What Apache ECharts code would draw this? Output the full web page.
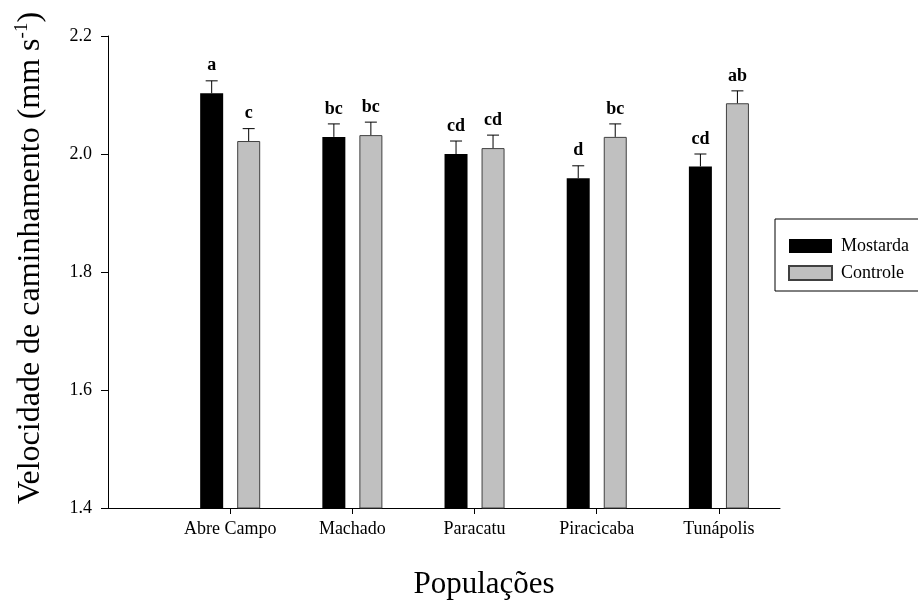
<!DOCTYPE html>
<html>
<head>
<meta charset="utf-8">
<script src="https://cdn.jsdelivr.net/npm/echarts@6/dist/echarts.min.js"></script>
<style>
html,body{margin:0;padding:0;background:#fff;}
#chart{width:918px;height:601px;}
</style>
</head>
<body>
<div id="chart"></div>
<script>
// ---- data ----
var populations = ['Abre Campo', 'Machado', 'Paracatu', 'Piracicaba', 'Tunápolis'];
var mostarda = [2.103, 2.029, 2.000, 1.959, 1.979];
var mostardaErr = [0.021, 0.022, 0.022, 0.021, 0.021];
var mostardaLetters = ['a', 'bc', 'cd', 'd', 'cd'];
var controle = [2.022, 2.032, 2.010, 2.029, 2.086];
var controleErr = [0.021, 0.022, 0.022, 0.022, 0.021];
var controleLetters = ['c', 'bc', 'cd', 'bc', 'ab'];
var yTicks = [1.4, 1.6, 1.8, 2.0, 2.2];

// ---- build axis slots (half-unit spacing, populations at 1..5 of a 0..5.5 range) ----
var slots = [];
for (var i = 0; i < 12; i++) slots.push('');
var slotIndex = populations.map(function (p, k) { return 2 + 2 * k; });
populations.forEach(function (p, k) { slots[slotIndex[k]] = p; });
function isPop(idx) { return slotIndex.indexOf(idx) >= 0; }

var FONT = '"Liberation Serif", "Times New Roman", serif';
var BAR_W = 23;
var OFFSET = 18.5;

function barData(vals) { return vals.map(function (v, k) { return [slotIndex[k], v]; }); }
function errData(vals, errs) { return vals.map(function (v, k) { return [slotIndex[k], v, errs[k]]; }); }

function errRender(sign, letters) {
  return function (params, api) {
    var idx = api.value(0), v = api.value(1), e = api.value(2);
    var p0 = api.coord([idx, v]);
    var p1 = api.coord([idx, v + e]);
    var x = p0[0] + sign * OFFSET;
    var style = { stroke: '#000', lineWidth: 1 };
    return {
      type: 'group',
      children: [
        { type: 'line', shape: { x1: x, y1: p0[1], x2: x, y2: p1[1] }, style: style },
        { type: 'line', shape: { x1: x - 6, y1: p1[1], x2: x + 6, y2: p1[1] }, style: style },
        { type: 'text', x: x, y: p1[1] - 6,
          style: { text: letters[params.dataIndex], font: 'bold 18px ' + FONT,
                   fill: '#000', textAlign: 'center', textVerticalAlign: 'bottom' } }
      ]
    };
  };
}

var chart = echarts.init(document.getElementById('chart'));
chart.setOption({
  animation: false,
  backgroundColor: '#fff',
  grid: { left: 108, top: 36, right: 138, bottom: 93, containLabel: false },
  xAxis: {
    type: 'category',
    data: slots,
    boundaryGap: false,
    axisLine: { lineStyle: { color: '#000', width: 1 } },
    axisTick: { length: 6, lineStyle: { color: '#000' }, interval: function (idx) { return isPop(idx); } },
    axisLabel: { interval: function (idx) { return isPop(idx); }, color: '#000',
                 fontFamily: FONT, fontSize: 18, margin: 12 },
    splitLine: { show: false }
  },
  yAxis: {
    type: 'value',
    min: yTicks[0], max: yTicks[yTicks.length - 1], interval: 0.2,
    axisLine: { show: true, lineStyle: { color: '#000', width: 1 } },
    axisTick: { show: true, length: 7, lineStyle: { color: '#000' } },
    axisLabel: { color: '#000', fontFamily: FONT, fontSize: 18, margin: 16,
                 formatter: function (v) { return v.toFixed(1); } },
    splitLine: { show: false }
  },
  legend: {
    data: ['Mostarda', 'Controle'],
    orient: 'vertical',
    left: 788, top: 237, padding: 0,
    itemWidth: 43, itemHeight: 14, itemGap: 9,
    icon: 'rect',
    textStyle: { color: '#000', fontFamily: FONT, fontSize: 18, padding: [0, 0, 0, 4] }
  },
  graphic: [
    { type: 'rect', shape: { x: 775, y: 219, width: 160, height: 72 },
      style: { fill: 'none', stroke: '#000', lineWidth: 1 }, silent: true },
    { type: 'text', x: 31, y: 258, rotation: Math.PI / 2,
      style: { text: '{a|Velocidade de caminhamento (mm s}{s|-1}{a|)}',
               textAlign: 'center', textVerticalAlign: 'middle',
               rich: { a: { fontFamily: FONT, fontSize: 32, fill: '#000', lineHeight: 36 },
                       s: { fontFamily: FONT, fontSize: 19, fill: '#000', verticalAlign: 'top', lineHeight: 36 } } } },
    { type: 'text', x: 484, y: 585,
      style: { text: 'Populações', font: '31px ' + FONT, fill: '#000',
               textAlign: 'center', textVerticalAlign: 'middle' } }
  ],
  series: [
    { name: 'Mostarda', type: 'bar', data: barData(mostarda), barWidth: BAR_W, barGap: '61%',
      itemStyle: { color: '#000' } },
    { name: 'Controle', type: 'bar', data: barData(controle), barWidth: BAR_W, barGap: '61%',
      itemStyle: { color: '#c0c0c0', borderColor: '#404040', borderWidth: 1 } },
    { type: 'custom', data: errData(mostarda, mostardaErr), renderItem: errRender(-1, mostardaLetters), z: 5, silent: true },
    { type: 'custom', data: errData(controle, controleErr), renderItem: errRender(1, controleLetters), z: 5, silent: true }
  ]
});
</script>
</body>
</html>
